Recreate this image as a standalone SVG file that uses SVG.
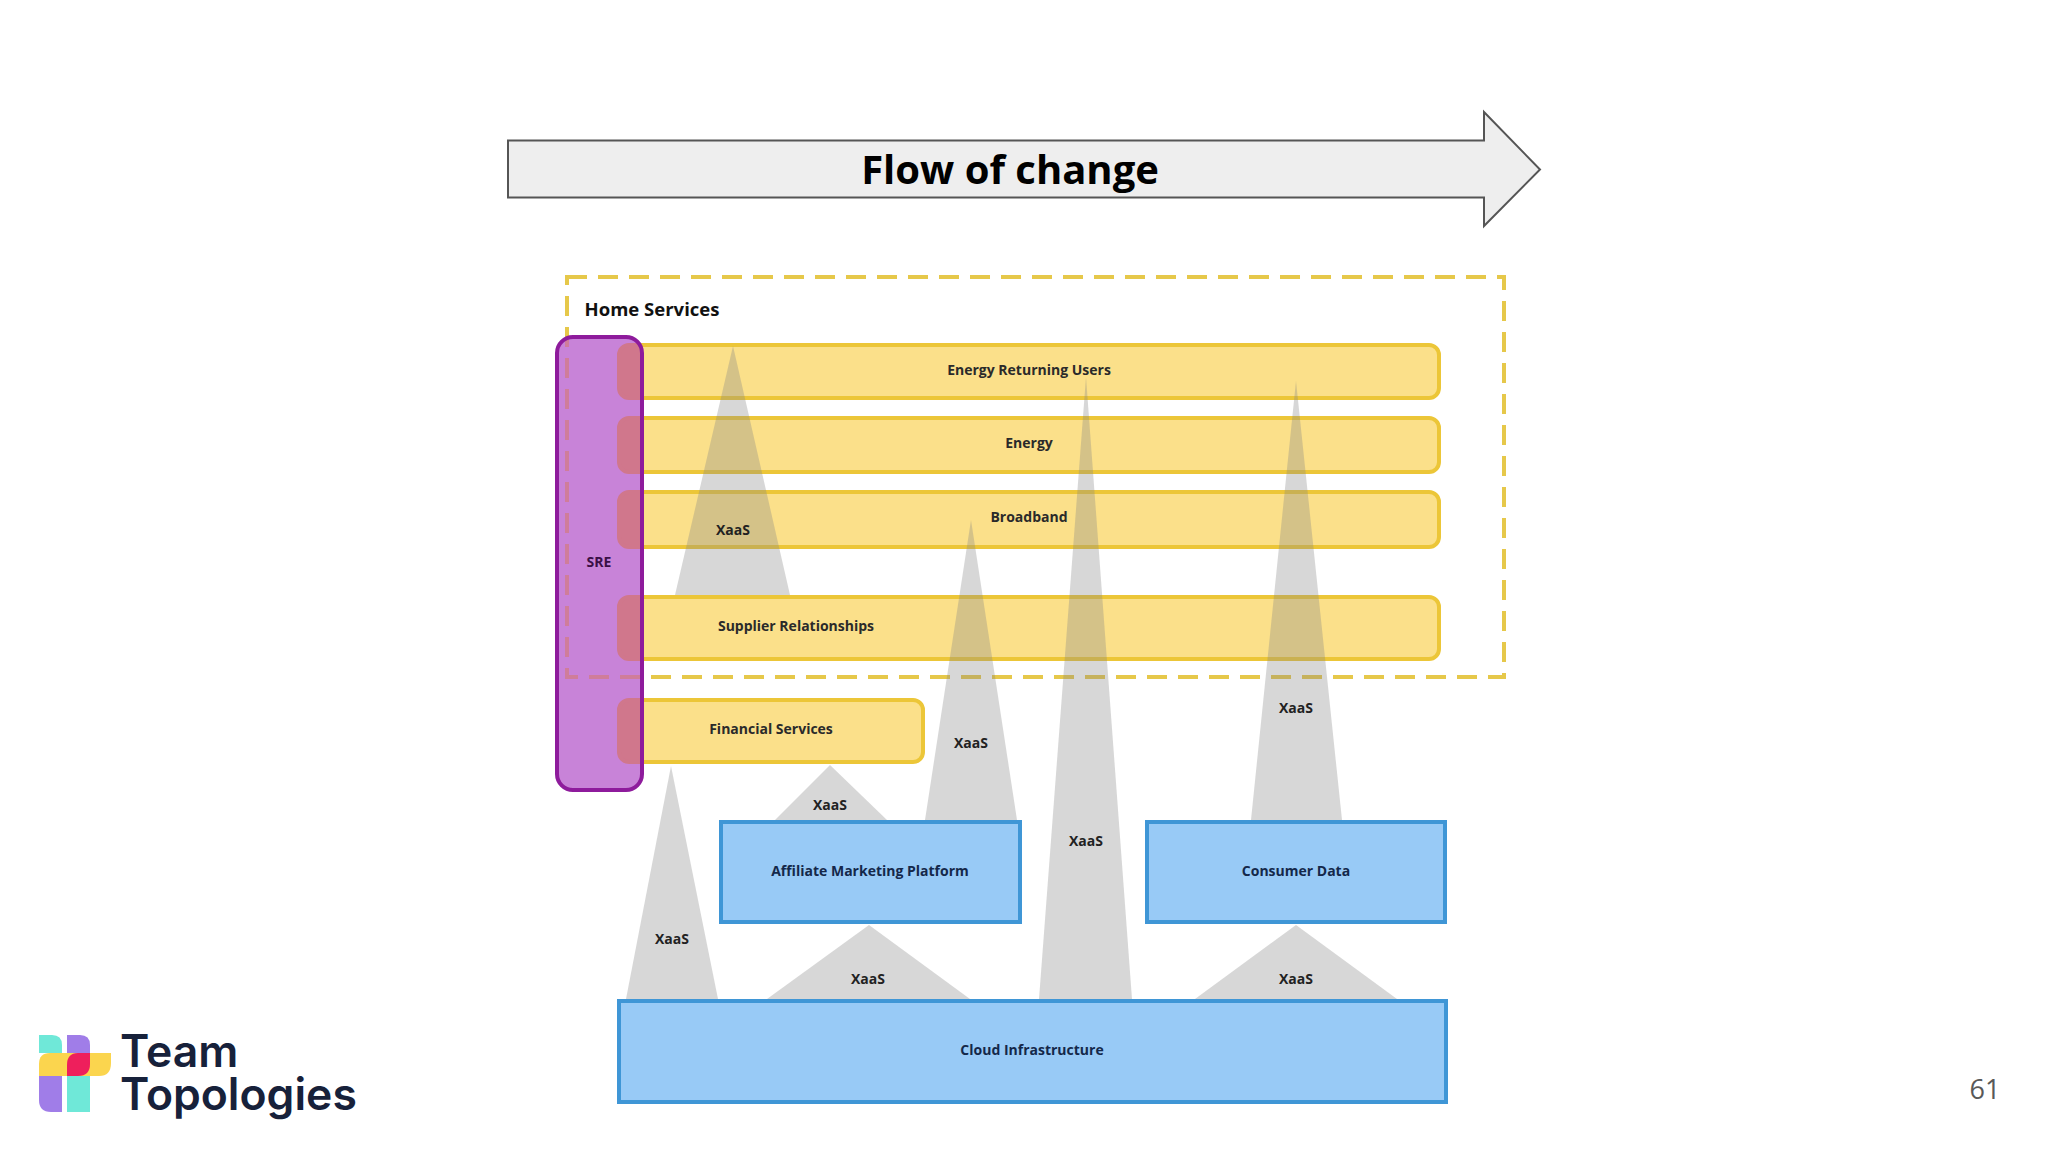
<svg xmlns="http://www.w3.org/2000/svg" width="2048" height="1152" viewBox="0 0 2048 1152">
<style>
text{font-family:"Open Sans","Noto Sans","Liberation Sans",sans-serif;font-weight:700;fill:#2a2a2a;text-anchor:middle}
.l{font-size:14px}
.x{font-size:14px;fill:#222}
.bar rect{fill:#fbe08a;stroke:#ecc638;stroke-width:4}
.box rect{fill:#98caf6;stroke:#3f96d6;stroke-width:4}
.bl{fill:#14284a}
.tri{fill:#858585;fill-opacity:.33}
.pk{fill:#d0778c;stroke:#d0778c;stroke-width:4}
.lg{font-family:Inter,sans-serif;font-size:44.500px;font-weight:600;fill:#17213a;text-anchor:start}
</style>
<defs><clipPath id="sre-clip"><rect x="557" y="337" width="85" height="453" rx="16"/></clipPath></defs>
<rect width="2048" height="1152" fill="#fff"/>
<g id="flow-arrow">
<path d="M508 140.500H1484V112L1540 169.500L1484 226V197.500H508Z" fill="#eeeeee" stroke="#555" stroke-width="2"/>
<text x="1010" y="184" style="font-size:40px;fill:#000">Flow of change</text>
</g>
<g id="home-services-boundary">
<rect x="567" y="277" width="937" height="400" fill="none" stroke="#e6c84a" stroke-width="4" stroke-dasharray="20 11"/>
<text x="652" y="316" style="font-size:18.500px;fill:#111">Home Services</text>
</g>
<g id="energy-returning-users" class="bar"><rect x="619" y="345" width="820" height="53" rx="10"/><text class="l" x="1029" y="375">Energy Returning Users</text></g>
<g id="energy" class="bar"><rect x="619" y="418" width="820" height="54" rx="10"/><text class="l" x="1029" y="448">Energy</text></g>
<g id="broadband" class="bar"><rect x="619" y="492" width="820" height="55" rx="10"/><text class="l" x="1029" y="522">Broadband</text></g>
<g id="supplier-relationships" class="bar"><rect x="619" y="597" width="820" height="62" rx="10"/><text class="l" x="796" y="631">Supplier Relationships</text></g>
<g id="financial-services" class="bar"><rect x="619" y="700" width="304" height="62" rx="10"/><text class="l" x="771" y="734">Financial Services</text></g>
<g id="connectors">
<path class="tri" d="M733 346L790 595H675Z"/>
<path class="tri" d="M971 520L1017 820H925Z"/>
<path class="tri" d="M1086 377L1132 999H1039Z"/>
<path class="tri" d="M1296 381L1342 820H1251Z"/>
<path class="tri" d="M830 765L887 820H775Z"/>
<path class="tri" d="M671 766L718 999H626Z"/>
<path class="tri" d="M869 925L970 999H767Z"/>
<path class="tri" d="M1296 925L1397 999H1195Z"/>
<text class="x" x="733" y="535">XaaS</text>
<text class="x" x="971" y="748">XaaS</text>
<text class="x" x="1086" y="846">XaaS</text>
<text class="x" x="1296" y="713">XaaS</text>
<text class="x" x="830" y="810">XaaS</text>
<text class="x" x="672" y="944">XaaS</text>
<text class="x" x="868" y="984">XaaS</text>
<text class="x" x="1296" y="984">XaaS</text>
</g>
<g id="sre">
<rect x="557" y="337" width="85" height="453" rx="16" fill="#c883d8"/>
<g clip-path="url(#sre-clip)">
<rect x="567" y="277" width="937" height="400" fill="none" stroke="#cf7d9a" stroke-width="4" stroke-dasharray="20 11"/>
<rect class="pk" x="619" y="345" width="60" height="53" rx="10"/>
<rect class="pk" x="619" y="418" width="60" height="54" rx="10"/>
<rect class="pk" x="619" y="492" width="60" height="55" rx="10"/>
<rect class="pk" x="619" y="597" width="60" height="62" rx="10"/>
<rect class="pk" x="619" y="700" width="60" height="62" rx="10"/>
</g>
<rect x="557" y="337" width="85" height="453" rx="16" fill="none" stroke="#8e1b9c" stroke-width="4"/>
<text class="l" x="599" y="567" style="fill:#3a1046">SRE</text>
</g>
<g id="affiliate-marketing-platform" class="box"><rect x="721" y="822" width="299" height="100"/><text class="l bl" x="870" y="876">Affiliate Marketing Platform</text></g>
<g id="consumer-data" class="box"><rect x="1147" y="822" width="298" height="100"/><text class="l bl" x="1296" y="876">Consumer Data</text></g>
<g id="cloud-infrastructure" class="box"><rect x="619" y="1001" width="827" height="101"/><text class="l bl" x="1032" y="1055">Cloud Infrastructure</text></g>
<g id="logo">
<path d="M39 1035H52Q62 1035 62 1045V1053H39Z" fill="#6fe8d8"/>
<path d="M67 1035H80Q90 1035 90 1045V1053H67Z" fill="#a07de8"/>
<path d="M39 1076H62V1112H51Q39 1112 39 1100Z" fill="#a07de8"/>
<path d="M67 1076H90V1112H67Z" fill="#6fe8d8"/>
<path d="M50 1053H111V1063Q111 1076 99 1076H39V1064Q39 1053 50 1053Z" fill="#fbd54e"/>
<path d="M78 1053H90V1064Q90 1076 78 1076H67V1065Q67 1053 78 1053Z" fill="#ee1f5c"/>
<text class="lg" x="120" y="1067">Team</text>
<text class="lg" x="120" y="1110">Topologies</text>
</g>
<text id="page-number" x="1985" y="1099" style="font-size:27px;font-weight:400;fill:#595959">61</text>
</svg>
